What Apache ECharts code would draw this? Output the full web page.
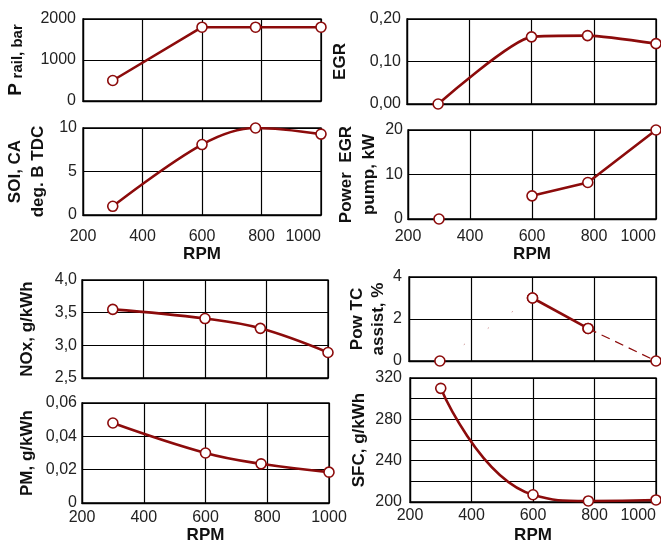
<!DOCTYPE html>
<html>
<head>
<meta charset="utf-8">
<style>
html,body{margin:0;padding:0;background:#fff;}
#chart{width:661px;height:547px;}
</style>
<script src="https://cdn.jsdelivr.net/npm/echarts@6/dist/echarts.min.js"></script>
</head>
<body>
<div id="chart"></div>
<script>
// ---- data ----
const rpm = [300, 600, 780, 1000];
const xTicks = [200, 400, 600, 800, 1000];
const pRail = [500, 1800, 1800, 1800];          // bar
const egr = [0, 0.158, 0.161, 0.142];           // -
const soi = [1, 8.1, 10, 9.3];                  // deg B TDC
const egrPumpPower = [0, 5.2, 8.2, 20];         // kW
const nox = [3.55, 3.41, 3.26, 2.89];           // g/kWh
const tcAssist = [0, 3.0, 1.55, 0];             // %
const pm = [0.048, 0.030, 0.0235, 0.0185];      // g/kWh
const sfc = [310, 207, 201, 202];               // g/kWh

const FONT = "'Liberation Sans', Arial, sans-serif";
const RED = '#8c0b0b';
const pts = (vals, idx) => idx.map(i => [rpm[i], vals[i]]);
const ALL = [0, 1, 2, 3];

const grids = [
  {left: 83,  top: 19,  width: 238, height: 82},
  {left: 407, top: 19,  width: 249, height: 85},
  {left: 83,  top: 128, width: 238, height: 87},
  {left: 408, top: 130, width: 248, height: 89},
  {left: 82,  top: 280, width: 246, height: 98},
  {left: 409, top: 277, width: 247, height: 84},
  {left: 82,  top: 403, width: 247, height: 100},
  {left: 410, top: 378, width: 246, height: 124}
].map(g => Object.assign({show: true, borderColor: '#000', borderWidth: 1.3, backgroundColor: '#fff'}, g));

const xLabelCfg = [null, null, {m: 14, g: 31, r: 'right'}, {m: 10, g: 27, r: 'right'},
                   null, null, {m: 7, g: 23, r: null}, {m: 6, g: 25, r: 'right'}];

const xAxes = grids.map((g, i) => {
  const c = xLabelCfg[i];
  return {
    type: 'value', gridIndex: i, min: xTicks[0], max: xTicks[xTicks.length - 1], interval: 200,
    axisLine: {show: true, onZero: false, lineStyle: {color: '#000', width: 1.3}},
    axisTick: {show: false},
    splitLine: {show: true, lineStyle: {color: '#000', width: 1.2}},
    axisLabel: c ? {show: true, margin: c.m, fontFamily: FONT, fontSize: 16, color: '#222',
                    formatter: v => String(v),
                    alignMaxLabel: c.r || undefined} : {show: false},
    name: c ? 'RPM' : '', nameLocation: 'middle', nameGap: c ? c.g : 0,
    nameTextStyle: {fontFamily: FONT, fontSize: 17, fontWeight: 'bold', color: '#111'}
  };
});

const comma = d => v => v.toFixed(d).replace('.', ',');
const yCfg = [
  {min: 0, max: 2000, interval: 1000, fmt: v => String(v), m: 7,
   name: '{a|P} {b|rail, bar}', gap: 58},
  {min: 0, max: 0.2, interval: 0.1, fmt: comma(2), m: 6, name: 'EGR', gap: 57},
  {min: 0, max: 10, interval: 5, fmt: v => String(v), m: 6, name: 'SOI, CA\ndeg. B TDC', gap: 33, lh: 23},
  {min: 0, max: 20, interval: 10, fmt: v => String(v), m: 5, name: 'Power  EGR\npump, kW', gap: 25, lh: 23},
  {min: 2.5, max: 4.0, interval: 0.5, fmt: comma(1), m: 5, name: 'NOx, g/kWh', gap: 45},
  {min: 0, max: 4, interval: 2, fmt: v => String(v), m: 7, name: 'Pow TC\nassist, %', gap: 19, lh: 21},
  {min: 0, max: 0.06, interval: 0.02, fmt: v => v === 0 ? '0' : v.toFixed(2).replace('.', ','), m: 5,
   name: 'PM, g/kWh', gap: 45},
  {min: 200, max: 320, interval: 20, fmt: v => (v % 40 === 0 ? String(v) : ''), m: 8,
   name: 'SFC, g/kWh', gap: 41}
];

const yAxes = yCfg.map((c, i) => ({
  type: 'value', gridIndex: i, min: c.min, max: c.max, interval: c.interval,
  axisLine: {show: true, lineStyle: {color: '#000', width: 1.3}},
  axisTick: {show: false},
  splitLine: {show: true, lineStyle: {color: '#000', width: 1.2}},
  axisLabel: {show: true, margin: c.m, fontFamily: FONT, fontSize: 16, color: '#222', formatter: c.fmt},
  name: c.name, nameLocation: 'middle', nameRotate: 90, nameGap: c.gap,
  nameTextStyle: {fontFamily: FONT, fontSize: 17, fontWeight: 'bold', color: '#111',
                  lineHeight: c.lh || 20, align: 'center',
                  rich: {a: {fontFamily: FONT, fontSize: 19, fontWeight: 'bold', color: '#111', verticalAlign: 'bottom'},
                         b: {fontFamily: FONT, fontSize: 15, fontWeight: 'bold', color: '#111', verticalAlign: 'bottom'}}}
}));

const marker = {symbol: 'circle', symbolSize: 10,
  itemStyle: {color: '#fff', borderColor: RED, borderWidth: 1.6}};

function line(i, data, opt) {
  return Object.assign({
    type: 'line', xAxisIndex: i, yAxisIndex: i, data: data, clip: false, z: 5,
    showSymbol: true, animation: false,
    lineStyle: {color: RED, width: 2.6}
  }, marker, opt || {});
}

const series = [
  line(0, pts(pRail, ALL)),
  line(1, pts(egr, ALL), {smooth: 0.2}),
  line(2, pts(soi, ALL), {smooth: 0.35}),
  line(3, pts(egrPumpPower, [1, 2, 3])),
  line(3, pts(egrPumpPower, [0]), {lineStyle: {width: 0}}),
  line(4, pts(nox, ALL), {smooth: 0.4}),
  line(5, pts(tcAssist, [0, 1]), {lineStyle: {color: RED, width: 1, type: [1, 28], opacity: 0.6}}),
  line(5, pts(tcAssist, [1, 2])),
  line(5, pts(tcAssist, [2, 3]), {lineStyle: {color: RED, width: 1.2, type: [9, 6]}}),
  line(6, pts(pm, ALL), {smooth: 0.4}),
  line(7, pts(sfc, ALL), {smooth: 0.5})
];

const chart = echarts.init(document.getElementById('chart'), null, {renderer: 'canvas'});
chart.setOption({
  animation: false,
  backgroundColor: '#fff',
  grid: grids,
  xAxis: xAxes,
  yAxis: yAxes,
  series: series
});
</script>
</body>
</html>
